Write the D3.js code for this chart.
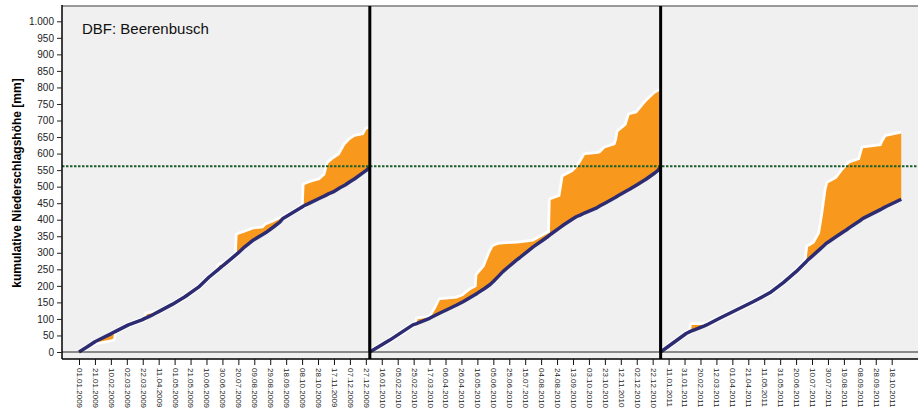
<!DOCTYPE html>
<html>
<head>
<meta charset="utf-8">
<script src="https://cdn.jsdelivr.net/npm/d3@7"></script>
<style>
body{margin:0;background:#fff;}
text{font-family:Arial,"Liberation Sans",sans-serif;}
</style>
</head>
<body>
<div id="chart"></div>
<script>
// days after 1 January of each year, expected (soll) and measured (ist) cumulative precipitation in mm
var years = [2009, 2010, 2011];

var days2009 = [0,10,20,25,40,43,44,62,79,84,85,92,96,100,117,133,150,163,175,176,180,183,198,199,208,219,231,235,244,252,256,281,282,283,290,302,309,313,319,327,334,340,346,357,361,364];
var soll2009 = [0,15,31,37,55,59,60,82,97,103,104,112,117,122,144,167,196,226,250,252,260,266,296,298,318,339,356,362,378,393,404,440,442,443,451,465,473,478,484,496,505,515,524,543,550,558];
var ist2009  = [0,15,30,31,38,40,60,82,97,103,114,117,118,122,144,167,196,226,250,262,264,266,296,354,361,371,374,384,392,402,405,440,442,505,512,520,535,571,583,596,626,641,651,656,673,676];

var days2010 = [0,25,54,59,60,75,78,83,88,96,109,117,126,134,135,144,151,155,161,167,184,188,205,217,224,226,227,239,243,255,259,264,270,284,289,295,308,310,312,322,326,335,347,358,362,364];
var soll2010 = [0,36,82,86,87,102,106,112,118,127,142,152,165,176,178,192,204,213,228,243,278,285,318,338,350,354,356,377,384,403,409,414,421,435,442,450,467,470,473,487,492,505,523,542,550,558];
var ist2010  = [0,36,82,86,99,104,112,132,157,159,162,169,187,197,233,258,300,318,324,326,328,329,334,350,359,360,460,470,530,545,555,571,596,599,601,616,626,640,666,686,717,722,757,782,787,790];

var days2011 = [0,32,38,39,55,57,74,116,137,154,170,183,185,187,193,200,204,208,210,221,229,233,237,250,254,277,279,283,302];
var soll2011 = [0,56,63,64,79,81,102,152,179,210,243,274,279,283,296,311,320,329,332,350,363,369,376,397,404,432,435,440,462];
var ist2011  = [0,56,63,82,82,82,102,152,179,210,243,276,318,320,329,359,419,490,510,525,550,560,571,581,616,623,635,651,661];

var meanValue = 562;

var yTicks = [0,50,100,150,200,250,300,350,400,450,500,550,600,650,700,750,800,850,900,950,1000];

var tickLabels = ["01.01.2009","21.01.2009","10.02.2009","02.03.2009","22.03.2009","11.04.2009","01.05.2009","21.05.2009",
  "10.06.2009","30.06.2009","20.07.2009","09.08.2009","29.08.2009","18.09.2009","08.10.2009","28.10.2009","17.11.2009",
  "07.12.2009","27.12.2009","16.01.2010","05.02.2010","25.02.2010","17.03.2010","06.04.2010","26.04.2010","16.05.2010",
  "05.06.2010","25.06.2010","15.07.2010","04.08.2010","24.08.2010","13.09.2010","03.10.2010","23.10.2010","12.11.2010",
  "02.12.2010","22.12.2010","11.01.2011","31.01.2011","20.02.2011","12.03.2011","01.04.2011","21.04.2011","11.05.2011",
  "31.05.2011","20.06.2011","10.07.2011","30.07.2011","19.08.2011","08.09.2011","28.09.2011","18.10.2011"];

function init(){

var w = 918;
var h = 412;
var left = 62, right = 918, top = 6, bottom = 359;

var svg = d3.select("#chart")
    .append("svg")
    .attr("width", w)
    .attr("height", h);

var parse = d3.utcParse("%d.%m.%Y");

var x = d3.scaleUtc()
    .domain([parse("01.01.2009"), parse("18.10.2011")])
    .range([79, 891.7]);

var y = d3.scaleLinear()
    .domain([0, 1000])
    .range([352, 21.3]);

var series = [
    {year: 2009, days: days2009, soll: soll2009, ist: ist2009},
    {year: 2010, days: days2010, soll: soll2010, ist: ist2010},
    {year: 2011, days: days2011, soll: soll2011, ist: ist2011}
];
series.forEach(function(s){
    var start = new Date(Date.UTC(s.year, 0, 1));
    s.points = s.days.map(function(d, i){
        return {date: d3.utcDay.offset(start, d), soll: s.soll[i], ist: s.ist[i]};
    });
});

// plot background
svg.append("rect")
    .attr("x", left).attr("y", top)
    .attr("width", right - left).attr("height", bottom - top)
    .attr("fill", "#f0f0f0");

svg.append("line")
    .attr("x1", left).attr("x2", right)
    .attr("y1", top).attr("y2", top)
    .attr("stroke", "#7a7a7a").attr("stroke-width", 1.5);

var area = d3.area()
    .x(function(d){ return x(d.date); })
    .y0(function(d){ return y(d.soll); })
    .y1(function(d){ return y(d.ist); });

var istLine = d3.line()
    .x(function(d){ return x(d.date); })
    .y(function(d){ return y(d.ist); });

var sollLine = d3.line()
    .x(function(d){ return x(d.date); })
    .y(function(d){ return y(d.soll); });

// white outline of measured curve
svg.selectAll("path.outline")
    .data(series)
    .enter()
    .append("path")
    .attr("class", "outline")
    .attr("d", function(s){ return istLine(s.points); })
    .attr("fill", "none")
    .attr("stroke", "#ffffff")
    .attr("stroke-width", 5.5)
    .attr("stroke-linejoin", "round");

svg.selectAll("path.diff")
    .data(series)
    .enter()
    .append("path")
    .attr("class", "diff")
    .attr("d", function(s){ return area(s.points); })
    .attr("fill", "#f8991d");

// drop of the expected line at year end
svg.selectAll("line.drop")
    .data(series.slice(0, 2))
    .enter()
    .append("line")
    .attr("class", "drop")
    .attr("x1", function(s){ return x(s.points[s.points.length-1].date); })
    .attr("x2", function(s){ return x(s.points[s.points.length-1].date); })
    .attr("y1", function(s){ return y(s.points[s.points.length-1].soll); })
    .attr("y2", y(0))
    .attr("stroke", "#2d2c72")
    .attr("stroke-width", 1);

svg.selectAll("path.soll")
    .data(series)
    .enter()
    .append("path")
    .attr("class", "soll")
    .attr("d", function(s){ return sollLine(s.points); })
    .attr("fill", "none")
    .attr("stroke", "#2d2c72")
    .attr("stroke-width", 3.5)
    .attr("stroke-linejoin", "round");

// mean line
svg.append("line")
    .attr("x1", left).attr("x2", right)
    .attr("y1", y(meanValue)).attr("y2", y(meanValue))
    .attr("stroke", "#1c5e2c")
    .attr("stroke-width", 2)
    .attr("stroke-dasharray", "2.5,1.5");

// zero line and frame
svg.append("line")
    .attr("x1", left).attr("x2", right)
    .attr("y1", y(0)).attr("y2", y(0))
    .attr("stroke", "#222").attr("stroke-width", 1.2);

svg.append("line")
    .attr("x1", left).attr("x2", right)
    .attr("y1", bottom).attr("y2", bottom)
    .attr("stroke", "#000").attr("stroke-width", 1.5);

svg.append("line")
    .attr("x1", left).attr("x2", left)
    .attr("y1", top - 1).attr("y2", bottom)
    .attr("stroke", "#000").attr("stroke-width", 1.5);

// year separators
svg.selectAll("line.sep")
    .data(years.slice(1))
    .enter()
    .append("line")
    .attr("class", "sep")
    .attr("x1", function(d){ return x(new Date(Date.UTC(d, 0, 1))); })
    .attr("x2", function(d){ return x(new Date(Date.UTC(d, 0, 1))); })
    .attr("y1", top)
    .attr("y2", bottom)
    .attr("stroke", "#000")
    .attr("stroke-width", 3);

// axes
var de = d3.formatLocale({decimal: ",", thousands: ".", grouping: [3], currency: ["", " €"]});

var yAxis = svg.append("g")
    .attr("transform", "translate(" + left + ",0)")
    .call(d3.axisLeft(y).tickValues(yTicks).tickFormat(de.format(",d")).tickSize(5).tickPadding(3));
yAxis.select(".domain").remove();
yAxis.selectAll("text").attr("font-size", 10).attr("fill", "#222").attr("font-family", "Arial, 'Liberation Sans', sans-serif");
yAxis.selectAll("line").attr("stroke", "#222");

var tickDates = tickLabels.map(parse);
var xAxis = svg.append("g")
    .attr("transform", "translate(0," + bottom + ")")
    .call(d3.axisBottom(x).tickValues(tickDates).tickSize(6).tickFormat(function(d, i){ return tickLabels[i]; }));
xAxis.select(".domain").remove();
xAxis.selectAll("line").attr("stroke", "#111");
xAxis.selectAll("text")
    .attr("font-size", 8)
    .attr("fill", "#222")
    .attr("font-family", "Arial, 'Liberation Sans', sans-serif")
    .attr("transform", "rotate(90)")
    .attr("x", 9)
    .attr("y", 0)
    .attr("dy", "0.32em")
    .style("text-anchor", "start");

svg.append("text")
    .attr("transform", "translate(17,183) rotate(-90)")
    .attr("dy", "0.35em")
    .attr("text-anchor", "middle")
    .attr("font-size", 12)
    .attr("font-weight", "bold")
    .attr("fill", "#000")
    .text("kumulative Niederschlagshöhe [mm]");

svg.append("text")
    .attr("x", 82)
    .attr("y", 34)
    .attr("font-size", 15)
    .attr("fill", "#111")
    .text("DBF: Beerenbusch");
}

window.onload = init;
</script>
</body>
</html>
